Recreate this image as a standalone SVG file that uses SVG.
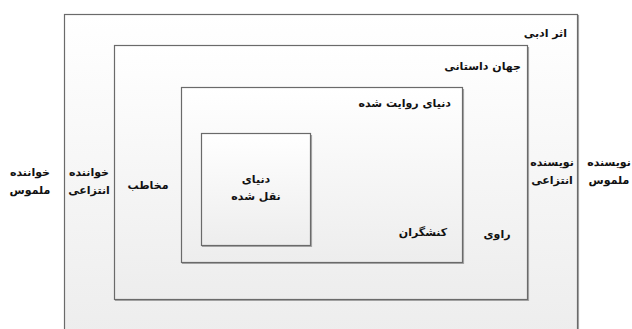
<svg xmlns="http://www.w3.org/2000/svg" width="632" height="329" viewBox="0 0 632 329">
  <defs>
    <linearGradient id="g" x1="0" y1="0" x2="0" y2="1">
      <stop offset="0" stop-color="#ffffff"/>
      <stop offset="1" stop-color="#ededed"/>
    </linearGradient>
  </defs>
  <style>
    .box { fill: url(#g); stroke: #6a6a6a; stroke-width: 1.2; }
    .sh { fill: none; stroke: #a8a8a8; stroke-width: 1.2; }
    text { font-family: "DejaVu Sans", "Noto Sans", sans-serif; font-weight: bold; font-size: 11px; fill: #111; }
  </style>
  <rect width="632" height="329" fill="#ffffff"/>

  <g id="literary-work">
    <polyline class="sh" points="578.5,15 578.5,330"/>
    <rect class="box" x="64.5" y="14.5" width="513" height="320"/>
    <text x="567" y="37" text-anchor="end">اثر ادبی</text>
  </g>

  <g id="fictional-world">
    <polyline class="sh" points="528.5,47 528.5,300.5 115,300.5"/>
    <rect class="box" x="114.5" y="45.5" width="413" height="254"/>
    <text x="521" y="70" text-anchor="end">جهان داستانی</text>
  </g>

  <g id="narrated-world">
    <polyline class="sh" points="463.5,89 463.5,263.5 182,263.5"/>
    <rect class="box" x="181.5" y="87.5" width="281" height="175"/>
    <text x="451" y="107" text-anchor="end">دنیای روایت شده</text>
  </g>

  <g id="quoted-world">
    <polyline class="sh" points="311.5,135 311.5,246.5 202,246.5"/>
    <rect class="box" x="201.5" y="133.5" width="109" height="112"/>
    <text x="256" y="183" text-anchor="middle">دنیای</text>
    <text x="256" y="200" text-anchor="middle">نقل شده</text>
  </g>

  <g id="labels">
    <text x="423" y="236" text-anchor="middle">کنشگران</text>
    <text x="497" y="238" text-anchor="middle">راوی</text>
    <text x="148" y="189" text-anchor="middle">مخاطب</text>
    <text x="89" y="176" text-anchor="middle">خواننده</text>
    <text x="89" y="194" text-anchor="middle">انتزاعی</text>
    <text x="30" y="176" text-anchor="middle">خواننده</text>
    <text x="30" y="194" text-anchor="middle">ملموس</text>
    <text x="552" y="166" text-anchor="middle">نویسنده</text>
    <text x="552" y="184" text-anchor="middle">انتزاعی</text>
    <text x="609" y="166" text-anchor="middle">نویسنده</text>
    <text x="609" y="184" text-anchor="middle">ملموس</text>
  </g>

  <g id="connectors"></g>
</svg>
